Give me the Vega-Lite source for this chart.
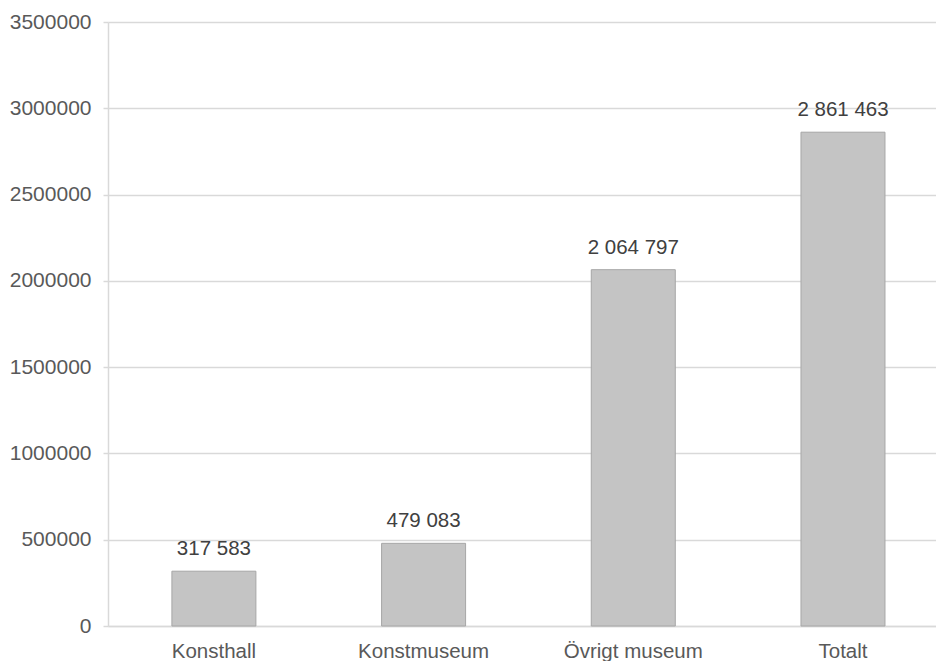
{
  "$schema": "https://vega.github.io/schema/vega-lite/v6.json",
  "autosize": "none",
  "padding": {"left": 108, "top": 22, "right": 0, "bottom": 35},
  "width": 828,
  "height": 604,
  "background": "white",
  "config": {
    "view": {"stroke": null},
    "font": "Liberation Sans",
    "locale": {"number": {"decimal": ",", "thousands": " ", "grouping": [3], "currency": ["", " kr"]}}
  },
  "data": {
    "values": [
      {"kategori": "Konsthall", "besök": 317583},
      {"kategori": "Konstmuseum", "besök": 479083},
      {"kategori": "Övrigt museum", "besök": 2064797},
      {"kategori": "Totalt", "besök": 2861463}
    ]
  },
  "encoding": {
    "x": {
      "field": "kategori",
      "type": "nominal",
      "sort": null,
      "scale": {"paddingInner": 0.5994, "paddingOuter": 0.274, "align": 0.556},
      "axis": {
        "title": null,
        "labelAngle": 0,
        "ticks": false,
        "labelFontSize": 20.5,
        "labelColor": "#595959",
        "labelPadding": 15,
        "domainColor": "#d9d9d9",
        "domainWidth": 1.5,
        "grid": false
      }
    },
    "y": {
      "field": "besök",
      "type": "quantitative",
      "scale": {"domain": [0, 3500000], "nice": false},
      "axis": {
        "title": null,
        "values": [0, 500000, 1000000, 1500000, 2000000, 2500000, 3000000, 3500000],
        "format": "d",
        "labelFontSize": 21,
        "labelColor": "#595959",
        "labelPadding": 12,
        "tickSize": 5,
        "tickColor": "#d9d9d9",
        "tickWidth": 1.5,
        "domainColor": "#d9d9d9",
        "domainWidth": 1.5,
        "gridColor": "#d9d9d9",
        "gridWidth": 1.5
      }
    }
  },
  "layer": [
    {
      "mark": {"type": "bar", "fill": "#c4c4c4", "stroke": "#a6a6a6", "strokeWidth": 1}
    },
    {
      "mark": {"type": "text", "baseline": "middle", "dy": -22, "fontSize": 20.5, "color": "#404040"},
      "encoding": {"text": {"field": "besök", "type": "quantitative", "format": ",d"}}
    }
  ]
}
